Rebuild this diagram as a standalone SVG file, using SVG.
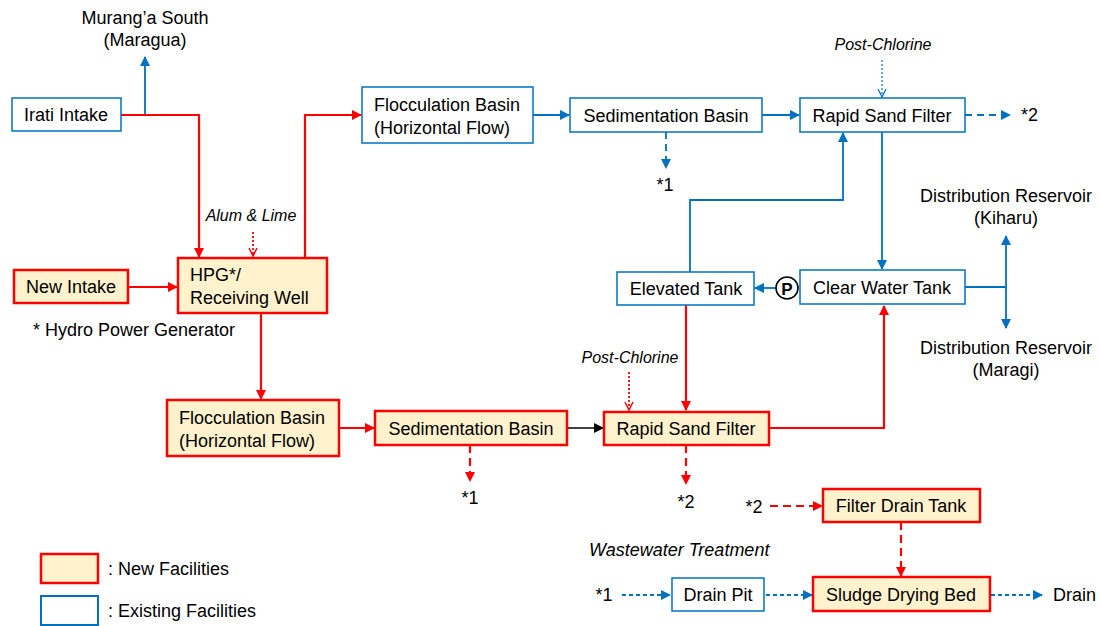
<svg xmlns="http://www.w3.org/2000/svg" width="1100" height="626" viewBox="0 0 1100 626">
<defs>
<marker id="ar" viewBox="0 0 10 10" refX="9" refY="5" markerWidth="10" markerHeight="10" markerUnits="userSpaceOnUse" orient="auto"><path d="M0,0L10,5L0,10z" fill="#FF0000"/></marker>
<marker id="ab" viewBox="0 0 10 10" refX="9" refY="5" markerWidth="10" markerHeight="10" markerUnits="userSpaceOnUse" orient="auto"><path d="M0,0L10,5L0,10z" fill="#0070C0"/></marker>
<marker id="ak" viewBox="0 0 10 10" refX="9" refY="5" markerWidth="10" markerHeight="10" markerUnits="userSpaceOnUse" orient="auto"><path d="M0,0L10,5L0,10z" fill="#000"/></marker>
<marker id="ovr" viewBox="0 0 10 10" refX="9" refY="5" markerWidth="10" markerHeight="10" markerUnits="userSpaceOnUse" orient="auto"><path d="M1,1L9,5L1,9" fill="none" stroke="#FF0000" stroke-width="1.5"/></marker>
<marker id="ovb" viewBox="0 0 10 10" refX="9" refY="5" markerWidth="10" markerHeight="10" markerUnits="userSpaceOnUse" orient="auto"><path d="M1,1L9,5L1,9" fill="none" stroke="#0070C0" stroke-width="1.2"/></marker>
</defs>
<style>
text{font-family:"Liberation Sans",Arial,sans-serif;font-size:18px;fill:#000}
.c{text-anchor:middle}
.i{font-style:italic;font-size:16px}
.w{font-style:italic;font-size:18px}
.new{fill:#FFF2CC;stroke:#FF0000;stroke-width:2.5}
.old{fill:#fff;stroke:#0070C0;stroke-width:1.5}
.r{fill:none;stroke:#FF0000;stroke-width:2.2}
.b{fill:none;stroke:#0070C0;stroke-width:1.8}
.rd{fill:none;stroke:#FF0000;stroke-width:2.2;stroke-dasharray:8 5}
.bd{fill:none;stroke:#0070C0;stroke-width:1.8;stroke-dasharray:7 5}
.bdd{fill:none;stroke:#0070C0;stroke-width:1.8;stroke-dasharray:4 3}
.rdot{fill:none;stroke:#FF0000;stroke-width:1.8;stroke-dasharray:2 2}
.bdot{fill:none;stroke:#0070C0;stroke-width:1.2;stroke-dasharray:2 2}
</style>
<g id="connectors">
<path class="b" d="M145,115V57" marker-end="url(#ab)"/>
<path class="r" d="M121,115H199V257" marker-end="url(#ar)"/>
<path class="r" d="M128,287H177" marker-end="url(#ar)"/>
<path class="rdot" d="M253,232V256" marker-end="url(#ovr)"/>
<path class="r" d="M305,258V115H361" marker-end="url(#ar)"/>
<path class="b" d="M533,115H569" marker-end="url(#ab)"/>
<path class="bd" d="M666,132V168" marker-end="url(#ab)"/>
<path class="b" d="M762,115H799" marker-end="url(#ab)"/>
<path class="bdot" d="M882,60V97" marker-end="url(#ovb)"/>
<path class="bd" d="M965,115H1010" marker-end="url(#ab)"/>
<path class="b" d="M882,132V269" marker-end="url(#ab)"/>
<path class="b" d="M776,288H755" marker-end="url(#ab)"/>
<path class="b" d="M690,272V200H843V133" marker-end="url(#ab)"/>
<path class="b" d="M965,287H1006"/>
<path class="b" d="M1006,287V236" marker-end="url(#ab)"/>
<path class="b" d="M1006,287V328" marker-end="url(#ab)"/>
<path class="r" d="M261,313V399" marker-end="url(#ar)"/>
<path class="r" d="M339,428H374" marker-end="url(#ar)"/>
<path class="rd" d="M470,445V481" marker-end="url(#ar)"/>
<path fill="none" stroke="#000" stroke-width="1.5" d="M567,428H603" marker-end="url(#ak)"/>
<path class="rdot" d="M629,372V410" marker-end="url(#ovr)"/>
<path class="r" d="M686,305V410" marker-end="url(#ar)"/>
<path class="r" d="M769,428H884V306" marker-end="url(#ar)"/>
<path class="rd" d="M686,445V484" marker-end="url(#ar)"/>
<path class="rd" d="M770,506H822" marker-end="url(#ar)"/>
<path class="rd" d="M901,522V576" marker-end="url(#ar)"/>
<path class="bdd" d="M622,595H670" marker-end="url(#ab)"/>
<path class="bdd" d="M766,595H812" marker-end="url(#ab)"/>
<path class="bdd" d="M991,595H1042" marker-end="url(#ab)"/>
</g>
<g id="labels">
<text class="c" x="145" y="24">Murang’a South</text>
<text class="c" x="145" y="46">(Maragua)</text>
<text class="i c" x="251" y="221">Alum &amp; Lime</text>
<text x="33" y="336">* Hydro Power Generator</text>
<text class="c" x="665" y="191">*1</text>
<text class="i c" x="883" y="50">Post-Chlorine</text>
<text x="1021" y="121">*2</text>
<text class="c" x="1006" y="202">Distribution Reservoir</text>
<text class="c" x="1006" y="224">(Kiharu)</text>
<text class="c" x="1006" y="354">Distribution Reservoir</text>
<text class="c" x="1006" y="376">(Maragi)</text>
<text class="c" x="470" y="504">*1</text>
<text class="i c" x="630" y="363">Post-Chlorine</text>
<text class="c" x="686" y="508">*2</text>
<text class="c" x="754" y="513">*2</text>
<text class="w" x="589" y="556">Wastewater Treatment</text>
<text class="c" x="604" y="601">*1</text>
<text x="1053" y="601">Drain</text>
</g>
<g id="irati-intake"><rect class="old" x="12" y="98" width="109" height="33"/><text class="c" x="66" y="121">Irati Intake</text></g>
<g id="new-intake"><rect class="new" x="14" y="270" width="114" height="33"/><text class="c" x="71" y="293">New Intake</text></g>
<g id="hpg"><rect class="new" x="178" y="258" width="149" height="55"/><text x="190" y="281">HPG*/</text><text x="190" y="304">Receiving Well</text></g>
<g id="floc-existing"><rect class="old" x="362" y="87" width="171" height="56"/><text x="374" y="111">Flocculation Basin</text><text x="374" y="134">(Horizontal Flow)</text></g>
<g id="sed-existing"><rect class="old" x="570" y="98" width="192" height="34"/><text class="c" x="666" y="122">Sedimentation Basin</text></g>
<g id="rsf-existing"><rect class="old" x="800" y="98" width="165" height="34"/><text class="c" x="882" y="122">Rapid Sand Filter</text></g>
<g id="clear-water-tank"><rect class="old" x="800" y="270" width="165" height="34"/><text class="c" x="882" y="294">Clear Water Tank</text></g>
<g id="elevated-tank"><rect class="old" x="617" y="272" width="137" height="33"/><text class="c" x="686" y="295">Elevated Tank</text></g>
<g id="pump"><circle cx="787" cy="288" r="11" fill="#fff" stroke="#000" stroke-width="1.6"/><text class="c" x="787" y="294.5" style="font-weight:bold;font-size:17px">P</text></g>
<g id="floc-new"><rect class="new" x="167" y="400" width="172" height="56"/><text x="179" y="424">Flocculation Basin</text><text x="179" y="447">(Horizontal Flow)</text></g>
<g id="sed-new"><rect class="new" x="375" y="411" width="192" height="34"/><text class="c" x="471" y="435">Sedimentation Basin</text></g>
<g id="rsf-new"><rect class="new" x="604" y="412" width="165" height="33"/><text class="c" x="686" y="435">Rapid Sand Filter</text></g>
<g id="filter-drain-tank"><rect class="new" x="823" y="489" width="157" height="33"/><text class="c" x="901" y="512">Filter Drain Tank</text></g>
<g id="drain-pit"><rect class="old" x="672" y="578" width="92" height="33"/><text class="c" x="718" y="601">Drain Pit</text></g>
<g id="sludge-drying-bed"><rect class="new" x="813" y="577" width="177" height="34"/><text class="c" x="901" y="601">Sludge Drying Bed</text></g>
<g id="legend">
<rect class="new" x="41" y="554" width="57" height="29"/><text x="108" y="575">: New Facilities</text>
<rect fill="#fff" stroke="#0070C0" stroke-width="2" x="41" y="596" width="57" height="29"/><text x="108" y="617">: Existing Facilities</text>
</g>
</svg>
